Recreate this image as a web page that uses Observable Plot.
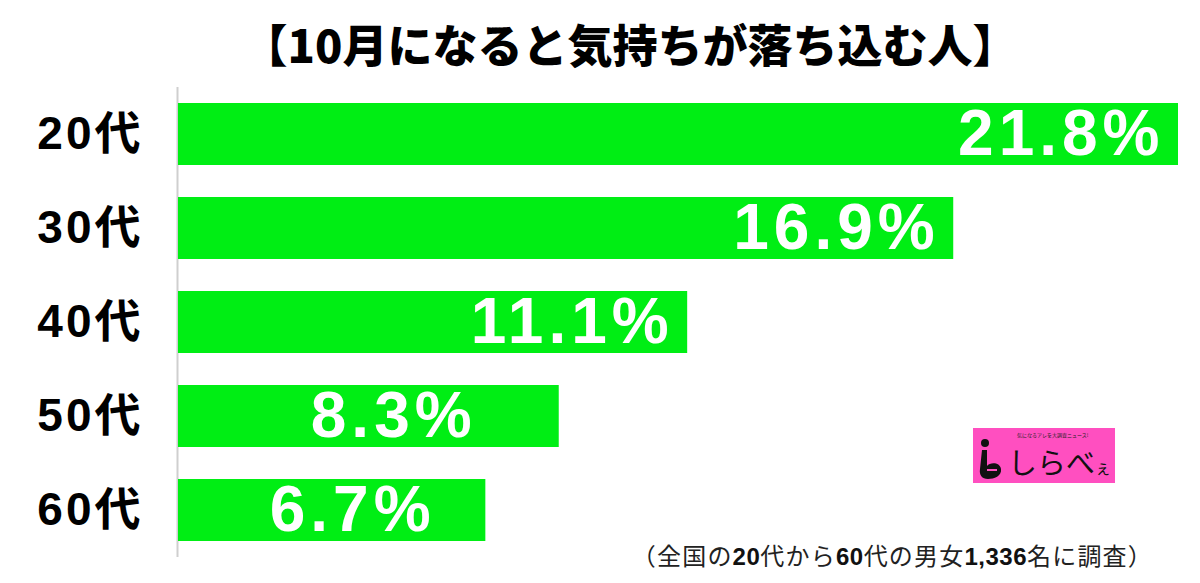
<!DOCTYPE html>
<html>
<head>
<meta charset="utf-8">
<script src="https://cdn.jsdelivr.net/npm/d3@7"></script>
<script src="https://cdn.jsdelivr.net/npm/@observablehq/plot@0.6"></script>
<style>
  html, body { margin: 0; padding: 0; background: #fff; }
  #wrap { position: relative; width: 1200px; height: 583px; overflow: hidden; background: #fff; }
  #title { height: 80px; line-height: 88px; text-align: center; padding-left: 60px;
           font-family: "Noto Sans CJK JP", sans-serif; font-weight: 900; font-size: 45px; color: #000; white-space: nowrap; }
  #chart svg { display: block; }
  #chart g[aria-label="y-axis tick label"] text { letter-spacing: 3px; }
  #chart g[aria-label="text"] text { letter-spacing: 5px; }
  #caption { position: absolute; left: 600px; width: 553px; top: 542px; text-align: right; white-space: nowrap;
             font-family: "Noto Sans CJK JP", sans-serif; font-size: 24px; line-height: 26px; color: #222; letter-spacing: 1.2px; }
  #caption b { font-family: "Liberation Sans", Arial, sans-serif; font-weight: 700; color: #111; letter-spacing: 0.5px; }
  #logo { position: absolute; left: 973px; top: 428px; width: 142px; height: 55px; background: #ff4fc0; overflow: hidden; }
  #logo .tag { position: absolute; left: 44px; top: 4px; font-family: "Noto Sans CJK JP", sans-serif; font-size: 5px; line-height: 6px; color: #222; white-space: nowrap; }
  #logo .name { position: absolute; left: 35px; top: 18px; font-family: "Noto Sans CJK JP", sans-serif; font-size: 29px; line-height: 31px; color: #111; white-space: nowrap; }
  #logo .name small { font-size: 16px; }
  #logo svg { position: absolute; left: 3px; top: 10px; }
</style>
</head>
<body>
<div id="wrap">
  <div id="title">【10月になると気持ちが落ち込む人】</div>
  <div id="chart"></div>
  <div id="caption">（全国の<b>20</b>代から<b>60</b>代の男女<b>1,336</b>名に調査）</div>
  <div id="logo">
    <div class="tag">気になるアレを大調査ニュース!</div>
    <svg width="30" height="42" viewBox="0 0 30 42">
      <circle cx="9" cy="5" r="4" fill="#111"/>
      <path d="M6 12 L11 12 L11 28 C14 24 24 24 25 31 C26 38 18 41 12 41 C6 41 3 37 4 31 Z" fill="#111"/>
      <rect x="11" y="31" width="10" height="2" fill="#ff4fc0"/>
    </svg>
    <div class="name">しらべ<small>ぇ</small></div>
  </div>
</div>
<script>
const ages = ["20代", "30代", "40代", "50代", "60代"];
const values = [21.8, 16.9, 11.1, 8.3, 6.7];
const labels = ["21.8%", "16.9%", "11.1%", "8.3%", "6.7%"];

const data = ages.map((a, i) => ({age: a, value: values[i], label: labels[i]}));

const plot = Plot.plot({
  width: 1200,
  height: 503,
  marginTop: 7,
  marginBottom: 26,
  marginLeft: 178,
  marginRight: 22,
  style: {fontFamily: "'Liberation Sans', Arial, 'Noto Sans CJK JP', sans-serif", background: "transparent"},
  x: {domain: [0, 21.8], axis: null},
  y: {domain: ages, paddingInner: 0.34, paddingOuter: 0.17, label: null},
  marks: [
    Plot.ruleX([0], {stroke: "#cfcfcf", strokeWidth: 2, dx: -1}),
    Plot.barX(data, {y: "age", x: "value", fill: "#00ee14"}),
    Plot.axisY({tickSize: 0, tickPadding: 35, fontSize: 46, fontWeight: "bold", fill: "#000", label: null}),
    Plot.text(data.filter(d => d.value >= 10), {
      y: "age", x: "value", text: "label", textAnchor: "end", dx: -14,
      fill: "#fff", fontSize: 64, fontWeight: "bold"
    }),
    Plot.text(data.filter(d => d.value < 10), {
      y: "age", x: d => d.value * 0.56, text: "label", textAnchor: "middle", dx: 2,
      fill: "#fff", fontSize: 64, fontWeight: "bold"
    })
  ]
});
document.getElementById("chart").appendChild(plot);
</script>
</body>
</html>
